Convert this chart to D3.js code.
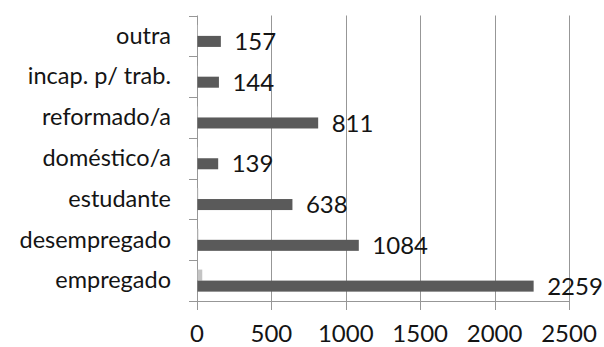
<!DOCTYPE html>
<html>
<head>
<meta charset="utf-8">
<script src="https://cdn.jsdelivr.net/npm/d3@7"></script>
<style>
  html, body { margin: 0; padding: 0; background: #fff; }
  svg { display: block; }
  text { font-family: Lato, "Open Sans", sans-serif; fill: #141414; }
</style>
</head>
<body>
<svg id="chart" width="604" height="347"></svg>
<script>
// Occupation categories, listed top to bottom
const categories = ["outra", "incap. p/ trab.", "reformado/a", "doméstico/a", "estudante", "desempregado", "empregado"];
// Main series (dark bars, labelled)
const mainValues = [157, 144, 811, 139, 638, 1084, 2259];
// Secondary series (light bars, very small)
const minorValues = [3, 2, 4, 3, 5, 6, 32];
// X axis ticks
const xTicks = [0, 500, 1000, 1500, 2000, 2500];

const W = 604, H = 347;
const margin = { top: 15.5, right: 35, bottom: 46, left: 197 };
const svg = d3.select("#chart");

const x = d3.scaleLinear().domain([0, 2500]).range([margin.left, W - margin.right]);
const y = d3.scaleBand().domain(categories).range([margin.top, H - margin.bottom]);
const inner = d3.scaleBand().domain(["minor", "main"]).range([0, y.bandwidth()]).paddingInner(0).paddingOuter(0.85);

const gridColor = "#979797";

// Vertical gridlines with short tick extensions below the axis
svg.append("g")
  .selectAll("line")
  .data(xTicks)
  .join("line")
  .attr("x1", d => Math.round(x(d)) + 0.5)
  .attr("x2", d => Math.round(x(d)) + 0.5)
  .attr("y1", margin.top)
  .attr("y2", H - margin.bottom + 9)
  .attr("stroke", gridColor)
  .attr("stroke-width", 1);

// Bottom axis line
svg.append("line")
  .attr("x1", x(0) - 8).attr("x2", x(2500))
  .attr("y1", Math.round(H - margin.bottom) + 0.5)
  .attr("y2", Math.round(H - margin.bottom) + 0.5)
  .attr("stroke", gridColor);

// Category axis ticks on the left
const bounds = categories.map(c => y(c)).concat([H - margin.bottom]);
svg.append("g")
  .selectAll("line")
  .data(bounds)
  .join("line")
  .attr("x1", x(0) - 8).attr("x2", x(0))
  .attr("y1", d => Math.round(d) + 0.5)
  .attr("y2", d => Math.round(d) + 0.5)
  .attr("stroke", gridColor);

// X tick labels
svg.append("g")
  .selectAll("text")
  .data(xTicks)
  .join("text")
  .attr("x", d => x(d))
  .attr("y", 342)
  .attr("text-anchor", "middle")
  .attr("font-size", 24)
  .text(d => d);

// Category labels
svg.append("g")
  .selectAll("text")
  .data(categories)
  .join("text")
  .attr("x", 171)
  .attr("y", d => y(d) + y.bandwidth() / 2)
  .attr("dy", "0.33em")
  .attr("text-anchor", "end")
  .attr("font-size", 23.5)
  .text(d => d);

// Light bars
svg.append("g")
  .selectAll("rect")
  .data(categories)
  .join("rect")
  .attr("x", x(0) + 0.5)
  .attr("y", (d) => y(d) + inner("minor"))
  .attr("width", (d, i) => x(minorValues[i]) - x(0))
  .attr("height", inner.bandwidth())
  .attr("fill", "#c4c4c4");

// Dark bars
svg.append("g")
  .selectAll("rect")
  .data(categories)
  .join("rect")
  .attr("x", x(0) + 0.5)
  .attr("y", (d) => y(d) + inner("main"))
  .attr("width", (d, i) => x(mainValues[i]) - x(0))
  .attr("height", inner.bandwidth())
  .attr("fill", "#5a5a5a");

// Value labels next to dark bars
svg.append("g")
  .selectAll("text")
  .data(categories)
  .join("text")
  .attr("x", (d, i) => x(mainValues[i]) + 14)
  .attr("y", (d) => y(d) + inner("main") + inner.bandwidth() / 2)
  .attr("dy", "0.36em")
  .attr("font-size", 24)
  .text((d, i) => mainValues[i]);
</script>
</body>
</html>
